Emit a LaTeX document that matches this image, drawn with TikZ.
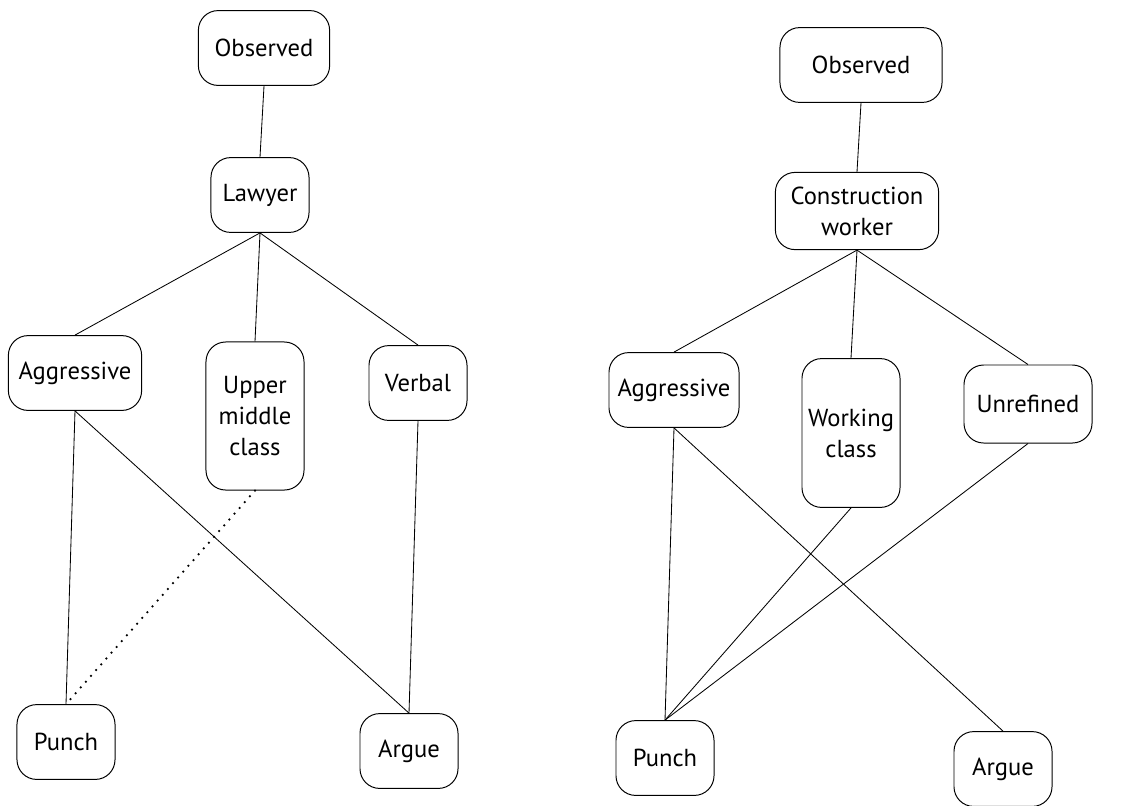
\documentclass[tikz,border=0pt]{standalone}
\usepackage{fontspec}
\setmainfont{PT Sans}
\begin{document}
\begin{tikzpicture}[x=0.025cm, y=-0.025cm,
		box/.style={draw, black, line width=0.7pt, rounded corners=14pt, minimum width=2.45cm, minimum height=1.87cm, align=center, inner sep=2pt, font=\fontsize{17.5}{22}\selectfont},
		link/.style={black, line width=0.6pt},
		dots/.style={black, line width=1.8pt, line cap=round, dash pattern=on 0pt off 5.5pt}]
		\useasboundingbox (0,0) rectangle (1143,805);
		
		% lawyer
		\node[box, minimum width=3.28cm] (obsL) at (264,48) {Observed};
		\node[box] (lawyer) at (260,195) {Lawyer};
		\node[box, minimum width=3.33cm] (aggL) at (75,373) {Aggressive};
		\node[box, minimum height=3.7cm] (upper) at (255,416) {Upper\\middle\\class};
		\node[box] (verbal) at (418,383) {Verbal};
		\node[box] (punchL) at (66,742) {Punch};
		\node[box] (argueL) at (409,751) {Argue};
		
		\draw[link] (obsL.south) -- (lawyer.north);
		\draw[link] (lawyer.south) -- (aggL.north);
		\draw[link] (lawyer.south) -- (upper.north);
		\draw[link] (lawyer.south) -- (verbal.north);
		\draw[link] (aggL.south) -- (punchL.north);
		\draw[link] (aggL.south) -- (argueL.north);
		\draw[link] (verbal.south) -- (argueL.north);
		\draw[dots] (upper.south) -- (punchL.north);
		
		% construction worker
		\node[box, minimum width=4.05cm] (obsR) at (861,65) {Observed};
		\node[box, minimum width=4.08cm, minimum height=1.93cm] (worker) at (857,211) {Construction\\worker};
		\node[box, minimum width=3.25cm] (aggR) at (674,390) {Aggressive};
		\node[box, minimum height=3.72cm] (working) at (851,433) {Working\\class};
		\node[box, minimum width=3.2cm, minimum height=1.95cm] (unref) at (1028,404) {Unrefined};
		\node[box] (punchR) at (665,758) {Punch};
		\node[box] (argueR) at (1003,769) {Argue};
		
		\draw[link] (obsR.south) -- (worker.north);
		\draw[link] (worker.south) -- (aggR.north);
		\draw[link] (worker.south) -- (working.north);
		\draw[link] (worker.south) -- (unref.north);
		\draw[link] (aggR.south) -- (punchR.north);
		\draw[link] (aggR.south) -- (argueR.north);
		\draw[link] (working.south) -- (punchR.north);
		\draw[link] (unref.south) -- (punchR.north);
	\end{tikzpicture}
\end{document}
